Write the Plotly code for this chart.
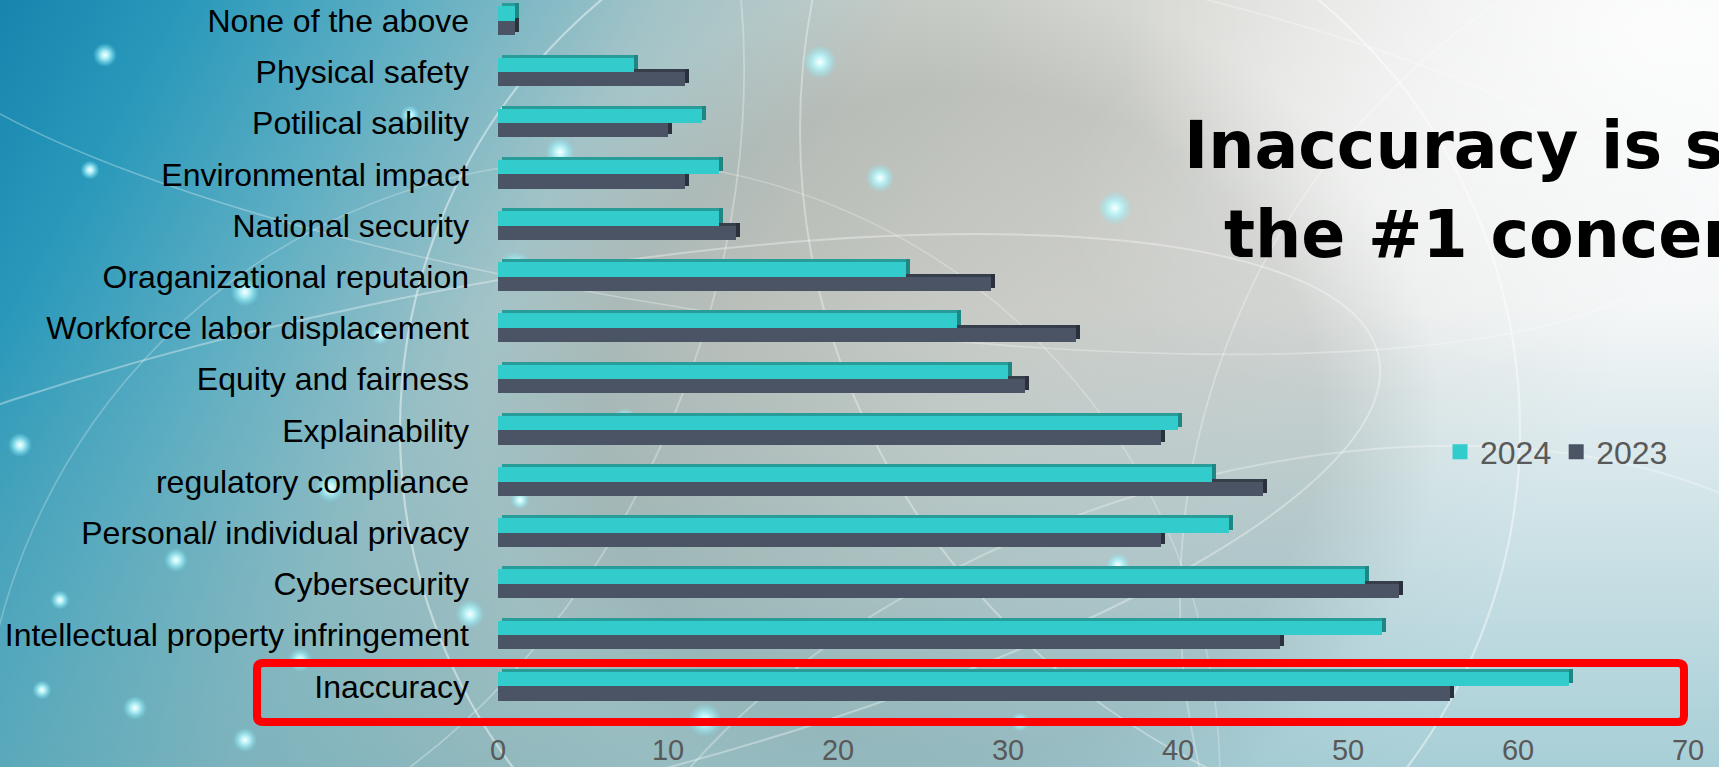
import base64
import plotly.graph_objects as go

# ---- figure geometry (pixels) ----
W, H = 1719, 767
PLOT_L, PLOT_R, PLOT_T, PLOT_B = 498, 1688, 0, 730

# ---- data ----
categories = [
    "None of the above",
    "Physical safety",
    "Potilical sability",
    "Environmental impact",
    "National security",
    "Oraganizational reputaion",
    "Workforce labor displacement",
    "Equity and fairness",
    "Explainability",
    "regulatory compliance",
    "Personal/ individual privacy",
    "Cybersecurity",
    "Intellectual property infringement",
    "Inaccuracy",
]
values_2024 = [1, 8, 12, 13, 13, 24, 27, 30, 40, 42, 43, 51, 52, 63]
values_2023 = [1, 11, 10, 11, 14, 29, 34, 31, 39, 45, 39, 53, 46, 56]
series_names = ["2024", "2023"]
x_ticks = [0, 10, 20, 30, 40, 50, 60, 70]
highlight_category = "Inaccuracy"
title_lines = ["Inaccuracy is still", "the #1 concern"]

# colours: front face, top face, side face
TEAL = ("#33CCCC", "#279C99", "#1E8784")
SLATE = ("#4A5465", "#363E4B", "#2B313C")


def paper_x(px):
    return (px - PLOT_L) / (PLOT_R - PLOT_L)


def paper_y(py):
    return (PLOT_B - py) / (PLOT_B - PLOT_T)


# ---- decorative slide background as an inline SVG ----
def background_svg():
    s = [f'<svg xmlns="http://www.w3.org/2000/svg" width="{W}" height="{H}" viewBox="0 0 {W} {H}">']
    s.append("<defs>")
    s.append(
        '<linearGradient id="base" x1="0" y1="0" x2="1" y2="0.25">'
        '<stop offset="0" stop-color="#1784AE"/>'
        '<stop offset="0.10" stop-color="#2898BA"/>'
        '<stop offset="0.22" stop-color="#5DAEC3"/>'
        '<stop offset="0.36" stop-color="#A2C3C7"/>'
        '<stop offset="0.50" stop-color="#C8CDC8"/>'
        '<stop offset="0.66" stop-color="#D9DAD5"/>'
        '<stop offset="0.82" stop-color="#E6E8E7"/>'
        '<stop offset="1" stop-color="#F2F5F6"/>'
        "</linearGradient>"
    )
    s.append(
        '<linearGradient id="lowtint" x1="0" y1="0" x2="0" y2="1">'
        '<stop offset="0.40" stop-color="#4C9FB0" stop-opacity="0"/>'
        '<stop offset="1" stop-color="#4C9FB0" stop-opacity="0.45"/>'
        "</linearGradient>"
    )
    s.append(
        '<radialGradient id="glow" cx="0.5" cy="0.5" r="0.5">'
        '<stop offset="0" stop-color="#FFFFFF" stop-opacity="0.85"/>'
        '<stop offset="1" stop-color="#FFFFFF" stop-opacity="0"/>'
        "</radialGradient>"
    )
    s.append(
        '<radialGradient id="orb" cx="0.5" cy="0.5" r="0.5">'
        '<stop offset="0" stop-color="#8C908A" stop-opacity="0.14"/>'
        '<stop offset="0.75" stop-color="#8C908A" stop-opacity="0.26"/>'
        '<stop offset="1" stop-color="#8C908A" stop-opacity="0"/>'
        "</radialGradient>"
    )
    s.append(
        '<radialGradient id="spark" cx="0.5" cy="0.5" r="0.5">'
        '<stop offset="0" stop-color="#FFFFFF" stop-opacity="1"/>'
        '<stop offset="0.35" stop-color="#BFFBFF" stop-opacity="0.85"/>'
        '<stop offset="1" stop-color="#7FEFFF" stop-opacity="0"/>'
        "</radialGradient>"
    )
    s.append("</defs>")
    s.append(f'<rect width="{W}" height="{H}" fill="url(#base)"/>')
    s.append('<ellipse cx="960" cy="420" rx="480" ry="440" fill="url(#orb)"/>')
    s.append(f'<rect width="{W}" height="{H}" fill="url(#lowtint)"/>')
    s.append('<ellipse cx="1660" cy="30" rx="540" ry="360" fill="url(#glow)"/>')
    s.append('<ellipse cx="1380" cy="200" rx="320" ry="200" fill="url(#glow)" opacity="0.3"/>')

    # thin light arcs
    arcs = [
        (960, 430, 560, 560, 0, 0.45, 2.2),
        (420, 560, 980, 260, -12, 0.35, 2.0),
        (1560, 130, 760, 720, 0, 0.35, 2.0),
        (200, 200, 520, 700, 20, 0.30, 1.8),
        (1250, 900, 700, 420, -18, 0.30, 2.0),
        (780, 120, 900, 200, 8, 0.30, 1.6),
        (600, 780, 620, 620, 0, 0.25, 1.6),
        (1900, 600, 720, 720, 0, 0.30, 1.8),
    ]
    for cx, cy, rx, ry, rot, op, sw in arcs:
        s.append(
            f'<ellipse cx="{cx}" cy="{cy}" rx="{rx}" ry="{ry}" transform="rotate({rot} {cx} {cy})" '
            f'fill="none" stroke="#FFFFFF" stroke-opacity="{op}" stroke-width="{sw}"/>'
        )

    # small glowing sparkles
    sparks = [
        (105, 55, 5), (20, 445, 5), (245, 292, 6), (560, 152, 6), (410, 115, 4),
        (515, 268, 7), (470, 614, 6), (705, 720, 7), (820, 62, 7), (1115, 208, 7),
        (1118, 565, 5), (300, 660, 5), (135, 708, 5), (42, 690, 4), (625, 420, 5),
        (380, 335, 4), (880, 178, 6), (60, 600, 4), (330, 488, 6), (176, 560, 5),
        (1020, 722, 4), (860, 580, 4), (90, 170, 4), (520, 500, 4), (245, 740, 5),
    ]
    for x, y, r in sparks:
        s.append(f'<circle cx="{x}" cy="{y}" r="{r * 2.4}" fill="url(#spark)"/>')
    s.append("</svg>")
    return "data:image/svg+xml;base64," + base64.b64encode("".join(s).encode()).decode()


# ---- bar geometry in axis units ----
DX = 4 / ((PLOT_R - PLOT_L) / 70.0)   # depth of the 3D side face
DY = 3 / 51.2                         # depth of the 3D top face
W24, W23 = 0.285, 0.275               # front-face thicknesses

fig = go.Figure()


def add_series(values, name, colors, offset, width, rank):
    front, top, side = colors
    # top face (shifted up and right)
    fig.add_trace(go.Bar(
        y=categories, x=values, base=DX, orientation="h",
        offset=offset + width, width=DY,
        marker=dict(color=top, line=dict(width=0)),
        showlegend=False, hoverinfo="skip",
    ))
    # right side face
    fig.add_trace(go.Bar(
        y=categories, x=[DX] * len(values), base=values, orientation="h",
        offset=offset + DY, width=width,
        marker=dict(color=side, line=dict(width=0)),
        showlegend=False, hoverinfo="skip",
    ))
    # front face
    fig.add_trace(go.Bar(
        y=categories, x=values, orientation="h", name=name,
        offset=offset, width=width, legendgroup=name, showlegend=False,
        marker=dict(color=front, line=dict(width=0)),
    ))
    # legend key (square swatch) for the series
    fig.add_trace(go.Scatter(
        x=[None], y=[None], mode="markers", name=name, legendgroup=name,
        legendrank=rank, marker=dict(symbol="square", size=15, color=front),
        hoverinfo="skip",
    ))


add_series(values_2023, series_names[1], SLATE, -W23, W23, 2)
add_series(values_2024, series_names[0], TEAL, 0.0, W24, 1)

# highlight frame around the top-ranked concern
x0, x1, y0, y1 = 257, 1684, 663, 722
r = 6
fx, fy = paper_x, paper_y
frame_path = (
    f"M {fx(x0 + r)},{fy(y0)} L {fx(x1 - r)},{fy(y0)} Q {fx(x1)},{fy(y0)} {fx(x1)},{fy(y0 + r)} "
    f"L {fx(x1)},{fy(y1 - r)} Q {fx(x1)},{fy(y1)} {fx(x1 - r)},{fy(y1)} "
    f"L {fx(x0 + r)},{fy(y1)} Q {fx(x0)},{fy(y1)} {fx(x0)},{fy(y1 - r)} "
    f"L {fx(x0)},{fy(y0 + r)} Q {fx(x0)},{fy(y0)} {fx(x0 + r)},{fy(y0)} Z"
)

title_font = dict(family="DejaVu Sans, sans-serif", size=65, color="#000000", weight="bold")
title_annotations = [
    dict(text=line, xref="paper", yref="paper", x=paper_x(1502), y=paper_y(yc),
         xanchor="center", yanchor="middle", align="center", showarrow=False, font=title_font)
    for line, yc in zip(title_lines, [145, 235])
]

fig.update_layout(
    width=W, height=H,
    margin=dict(l=PLOT_L, r=W - PLOT_R, t=PLOT_T, b=H - PLOT_B, autoexpand=False),
    barmode="overlay",
    paper_bgcolor="#BFD3D6",
    plot_bgcolor="rgba(0,0,0,0)",
    font=dict(family="Liberation Sans, Arial, sans-serif", color="#595959"),
    images=[dict(
        source=background_svg(), xref="paper", yref="paper",
        x=paper_x(0), y=paper_y(0),
        sizex=W / (PLOT_R - PLOT_L), sizey=H / (PLOT_B - PLOT_T),
        xanchor="left", yanchor="top", sizing="stretch", layer="below",
    )],
    xaxis=dict(
        range=[0, 70], tickvals=x_ticks, showgrid=False, zeroline=False,
        showline=False, ticks="", ticklabelstandoff=0,
        tickfont=dict(size=29, color="#595959"), automargin=False,
    ),
    yaxis=dict(
        categoryorder="array", categoryarray=categories[::-1],
        range=[-0.85, 13.408], showgrid=False, zeroline=False, showline=False,
        ticks="", ticklabelstandoff=28,
        tickfont=dict(size=32, color="#000000"), automargin=False,
    ),
    legend=dict(
        orientation="h", x=paper_x(1440), y=paper_y(452), xanchor="left", yanchor="middle",
        bgcolor="rgba(0,0,0,0)", font=dict(size=32, color="#595959"),
        itemwidth=30, itemclick=False, traceorder="normal",
    ),
    shapes=[dict(
        type="path", xref="paper", yref="paper", path=frame_path,
        line=dict(color="#FF0000", width=8), fillcolor="rgba(0,0,0,0)",
    )],
    annotations=title_annotations,
    bargap=0,
)

fig.write_html("out.html")
